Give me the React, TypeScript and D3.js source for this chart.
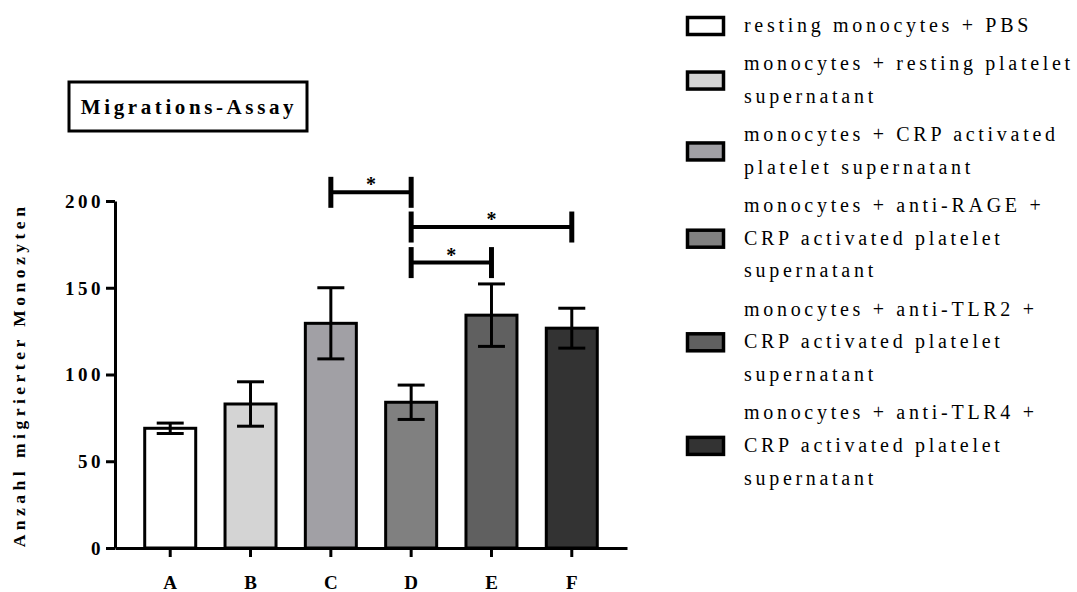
import React, { useEffect, useRef } from 'react';
import * as d3 from 'd3';

// bar data (mean +/- SEM)
const categories = ['A', 'B', 'C', 'D', 'E', 'F'];
const means = [69, 83, 129.5, 84, 134.2, 126.7];
const errors = [3, 12.8, 20.5, 9.9, 18, 11.5];
const fills = ['#ffffff', '#d4d4d4', '#a1a0a5', '#808080', '#606060', '#333333'];
const yTicks = [0, 50, 100, 150, 200];

const legendLabels = [
  ['resting monocytes + PBS'],
  ['monocytes + resting platelet', 'supernatant'],
  ['monocytes + CRP activated', 'platelet supernatant'],
  ['monocytes + anti-RAGE +', 'CRP activated platelet', 'supernatant'],
  ['monocytes + anti-TLR2 +', 'CRP activated platelet', 'supernatant'],
  ['monocytes + anti-TLR4 +', 'CRP activated platelet', 'supernatant'],
];

// significance brackets
const sigFrom = ['C', 'D', 'D'];
const sigTo = ['D', 'F', 'E'];
const sigLevel = [205, 185, 164.5];
const sigLabel = ['*', '*', '*'];

const title = 'Migrations-Assay';
const yLabel = 'Anzahl migrierter Monozyten';

const FONT = "'Liberation Serif', 'Times New Roman', serif";

const App: React.FC = () => {
  const svgRef = useRef<SVGSVGElement>(null);

  useEffect(() => {
    if (!svgRef.current) return;
    const width = 1077;
    const height = 592;

    const svg = d3.select(svgRef.current).attr('width', width).attr('height', height);
    svg.selectAll('*').remove();

    const x = d3
      .scaleBand()
      .domain(categories)
      .range([115, 627])
      .paddingInner(0.365)
      .paddingOuter(0.37);

    const y = d3.scaleLinear().domain([0, 200]).range([548, 201]);
    const cx = (c: string) => (x(c) ?? 0) + x.bandwidth() / 2;

    const g = svg.append('g').attr('font-family', FONT).attr('fill', '#000');

    // bars
    g.selectAll('.bar')
      .data(categories)
      .enter()
      .append('rect')
      .attr('class', 'bar')
      .attr('x', (d) => x(d) ?? 0)
      .attr('y', (d, i) => y(means[i]))
      .attr('width', x.bandwidth())
      .attr('height', (d, i) => y(0) - y(means[i]))
      .attr('fill', (d, i) => fills[i])
      .attr('stroke', '#000')
      .attr('stroke-width', 3);

    // error bars
    const capW = 27;
    const err = g.selectAll('.err').data(categories).enter().append('g').attr('class', 'err');
    err
      .append('line')
      .attr('x1', (d) => cx(d))
      .attr('x2', (d) => cx(d))
      .attr('y1', (d, i) => y(means[i] + errors[i]))
      .attr('y2', (d, i) => y(means[i] - errors[i]))
      .attr('stroke', '#000')
      .attr('stroke-width', 3);
    [1, -1].forEach((s) => {
      err
        .append('line')
        .attr('x1', (d) => cx(d) - capW / 2)
        .attr('x2', (d) => cx(d) + capW / 2)
        .attr('y1', (d, i) => y(means[i] + s * errors[i]))
        .attr('y2', (d, i) => y(means[i] + s * errors[i]))
        .attr('stroke', '#000')
        .attr('stroke-width', 3);
    });

    // y axis
    const yAxis = g
      .append('g')
      .attr('transform', 'translate(115,0)')
      .call(d3.axisLeft(y).tickValues(yTicks).tickSize(9).tickSizeOuter(0).tickPadding(11));
    yAxis.select('.domain').attr('stroke-width', 3);
    yAxis.selectAll('.tick line').attr('stroke-width', 3);
    yAxis
      .selectAll('.tick text')
      .attr('font-family', FONT)
      .attr('font-weight', 'bold')
      .attr('font-size', 19)
      .attr('letter-spacing', 3.5)
      .attr('dy', '0.34em')
      .attr('x', -11);

    // x axis
    const xAxis = g
      .append('g')
      .attr('transform', `translate(0,${y(0)})`)
      .call(d3.axisBottom(x).tickSize(9).tickSizeOuter(0).tickPadding(19));
    xAxis.select('.domain').attr('stroke-width', 3);
    xAxis.selectAll('.tick line').attr('stroke-width', 3);
    xAxis
      .selectAll('.tick text')
      .attr('font-family', FONT)
      .attr('font-weight', 'bold')
      .attr('font-size', 19);

    // y label
    g.append('text')
      .attr('transform', 'translate(25,375) rotate(-90)')
      .attr('text-anchor', 'middle')
      .attr('font-weight', 'bold')
      .attr('font-size', 17.5)
      .attr('letter-spacing', 4.5)
      .text(yLabel);

    // title box
    g.append('rect')
      .attr('x', 69)
      .attr('y', 82)
      .attr('width', 238)
      .attr('height', 49)
      .attr('fill', 'none')
      .attr('stroke', '#000')
      .attr('stroke-width', 3);
    g.append('text')
      .attr('x', 189)
      .attr('y', 114)
      .attr('text-anchor', 'middle')
      .attr('font-weight', 'bold')
      .attr('font-size', 21)
      .attr('letter-spacing', 3.6)
      .text(title);

    // significance brackets
    const half = 15.5;
    sigLevel.forEach((lv, i) => {
      const x1 = cx(sigFrom[i]);
      const x2 = cx(sigTo[i]);
      const yy = y(lv);
      const b = g.append('g');
      b.append('line')
        .attr('x1', x1)
        .attr('x2', x2)
        .attr('y1', yy)
        .attr('y2', yy)
        .attr('stroke', '#000')
        .attr('stroke-width', 4);
      [x1, x2].forEach((xx) => {
        b.append('line')
          .attr('x1', xx)
          .attr('x2', xx)
          .attr('y1', yy - half)
          .attr('y2', yy + half)
          .attr('stroke', '#000')
          .attr('stroke-width', 5);
      });
      b.append('text')
        .attr('x', (x1 + x2) / 2)
        .attr('y', yy - 1)
        .attr('text-anchor', 'middle')
        .attr('font-weight', 'bold')
        .attr('font-size', 20)
        .text(sigLabel[i]);
    });

    // legend
    const lineH = 32.7;
    const gap = 5.5;
    let ly = 26;
    const legend = g.append('g');
    legendLabels.forEach((lines, i) => {
      const item = legend.append('g');
      lines.forEach((t, j) => {
        item
          .append('text')
          .attr('x', 744)
          .attr('y', ly + j * lineH + 6)
          .attr('font-size', 20)
          .attr('letter-spacing', 3.7)
          .text(t);
      });
      const mid = ly + ((lines.length - 1) * lineH) / 2;
      item
        .append('rect')
        .attr('x', 687.5)
        .attr('y', mid - 8.5)
        .attr('width', 36)
        .attr('height', 17)
        .attr('fill', fills[i])
        .attr('stroke', '#000')
        .attr('stroke-width', 3.5);
      ly += lines.length * lineH + gap;
    });
  }, []);

  return (
    <svg
      ref={svgRef}
      style={{ position: 'absolute', left: 0, top: 0, background: '#fff' }}
    ></svg>
  );
};

export default App;
